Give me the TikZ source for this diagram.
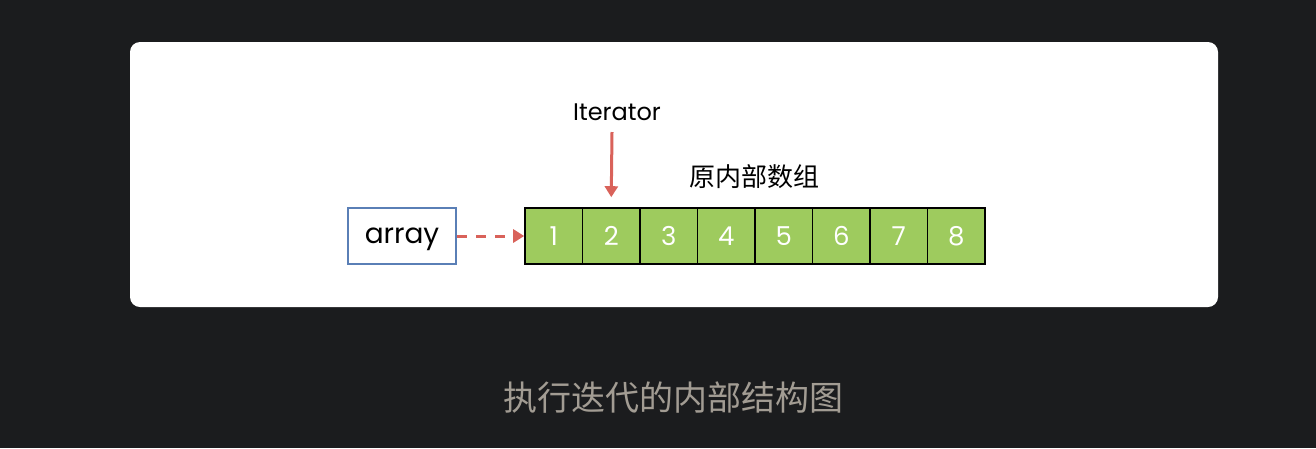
\documentclass[tikz,border=0pt]{standalone}
\usepackage{fontspec}
\setmainfont{Poppins}
\newfontfamily\cjk{Noto Sans CJK SC}
\usetikzlibrary{arrows.meta}
\definecolor{bgdark}{HTML}{1B1C1E}
\definecolor{cellgreen}{HTML}{9ECB5E}
\definecolor{boxblue}{HTML}{5A7FB6}
\definecolor{arrred}{HTML}{D9625A}
\definecolor{captiongray}{HTML}{A29C93}
\tikzset{
  cell/.style={draw=black, line width=1.6pt, fill=cellgreen, minimum width=57.5pt, minimum height=56pt, inner sep=0pt, text=white, font=\fontsize{26}{26}\selectfont},
  arraybox/.style={draw=boxblue, line width=2.5pt, fill=white, minimum width=108pt, minimum height=56pt, inner sep=0pt, text depth=0pt, font=\fontsize{28}{28}\selectfont},
  redarrow/.style={draw=arrred, line width=3pt, -{Triangle[length=11pt,width=13pt]}},
}
\begin{document}
\begin{tikzpicture}[x=1pt,y=-1pt]
\fill[bgdark] (0,0) rectangle (1316,448);
\useasboundingbox (0,0) rectangle (1316,448);
\fill[white, rounded corners=10pt] (130,42) rectangle (1218,307);
\node[arraybox] (arr) at (402,236) {array};
\foreach \i in {1,...,8} {
  \node[cell] (c\i) at ({525+57.5*(\i-0.5)},236) {\i};
}
\draw[redarrow, dash pattern=on 10pt off 9pt] (arr.east) -- (c1.west);
\node[font=\fontsize{24}{24}\selectfont] (it) at (617,112) {Iterator};
\coordinate (itop) at (612,132);
\draw[redarrow] (itop) -- ([yshift=10pt]c2.north);
\node[font=\cjk\fontsize{26}{26}\selectfont, anchor=west] (lbl) at (686,177) {原内部数组};
\node[font=\cjk\fontsize{34}{34}\selectfont, text=captiongray] (cap) at (673,398) {执行迭代的内部结构图};
\end{tikzpicture}
\end{document}
